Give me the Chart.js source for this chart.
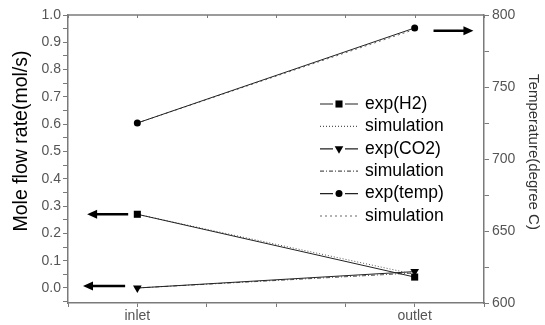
<!DOCTYPE html>
<html>
<head>
<meta charset="utf-8">
<script src="https://cdn.jsdelivr.net/npm/chart.js@4/dist/chart.umd.min.js"></script>
<style>
  html, body { margin: 0; padding: 0; background: #fff; }
  #wrap { width: 545px; height: 325px; position: relative; }
</style>
</head>
<body>
<div id="wrap"><canvas id="chart"></canvas></div>
<script>
  /* ---- data ---- */
  var categories = ['inlet', 'outlet'];
  var h2Exp = [0.27, 0.04];
  var h2Sim = [0.27, 0.05];
  var co2Exp = [0.0, 0.06];
  var co2Sim = [0.0, 0.055];
  var tempExp = [725, 791];
  var tempSim = [725, 790];

  var flowLabels = ['0.0', '0.1', '0.2', '0.3', '0.4', '0.5', '0.6', '0.7', '0.8', '0.9', '1.0'];
  var tempLabels = ['600', '650', '700', '750', '800'];
  var legendLabels = ['exp(H2)', 'simulation', 'exp(CO2)', 'simulation', 'exp(temp)', 'simulation'];
  var leftTitle = 'Mole flow rate(mol/s)';
  var rightTitle = 'Temperature(degree C)';

  /* arrows pointing at the axis each series belongs to (data units) */
  var arrowAxis = ['y', 'y', 'y2'];
  var arrowY = [0.27, 0.007, 789];
  var arrowFrom = [0.967, 0.956, 2.068];
  var arrowTo = [0.819, 0.804, 2.212];

  var FONT = "'Liberation Sans', Arial, sans-serif";
  var AXIS = '#7a7a7a';
  var TICK_TXT = '#555';

  function pts(arr) {
    return arr.map(function (v, i) { return { x: i + 1, y: v }; });
  }

  function drawMarker(ctx, style, x, y, r) {
    ctx.beginPath();
    if (style === 'rect') {
      var s = r * Math.SQRT1_2;
      ctx.rect(x - s, y - s, 2 * s, 2 * s);
    } else if (style === 'triangle') {
      ctx.moveTo(x - r * 0.866, y - r * 0.5);
      ctx.lineTo(x + r * 0.866, y - r * 0.5);
      ctx.lineTo(x, y + r);
      ctx.closePath();
    } else {
      ctx.arc(x, y, r, 0, Math.PI * 2);
    }
    ctx.fill();
  }

  /* top frame line with inward ticks */
  var topFrame = {
    id: 'topFrame',
    afterDraw: function (chart) {
      var ctx = chart.ctx, a = chart.chartArea, xs = chart.scales.x;
      ctx.save();
      ctx.strokeStyle = AXIS;
      ctx.lineWidth = 1.5;
      ctx.beginPath();
      ctx.moveTo(a.left, a.top);
      ctx.lineTo(a.right, a.top);
      ctx.stroke();
      ctx.lineWidth = 1;
      xs.ticks.forEach(function (t) {
        var px = Math.round(xs.getPixelForValue(t.value)) + 0.5;
        ctx.beginPath();
        ctx.moveTo(px, a.top);
        ctx.lineTo(px, a.top + 3);
        ctx.stroke();
      });
      ctx.restore();
    }
  };

  /* the fat arrows */
  var arrows = {
    id: 'arrows',
    afterDatasetsDraw: function (chart) {
      var ctx = chart.ctx, xs = chart.scales.x;
      ctx.save();
      ctx.fillStyle = '#000';
      ctx.strokeStyle = '#000';
      ctx.lineWidth = 2.5;
      for (var i = 0; i < arrowY.length; i++) {
        var ys = chart.scales[arrowAxis[i]];
        var y = ys.getPixelForValue(arrowY[i]);
        var x1 = xs.getPixelForValue(arrowFrom[i]);
        var x2 = xs.getPixelForValue(arrowTo[i]);
        var dir = x2 > x1 ? 1 : -1;
        var head = 10;
        ctx.beginPath();
        ctx.moveTo(x1, y);
        ctx.lineTo(x2 - dir * head * 0.8, y);
        ctx.stroke();
        ctx.beginPath();
        ctx.moveTo(x2, y);
        ctx.lineTo(x2 - dir * head, y - 4.5);
        ctx.lineTo(x2 - dir * head, y + 4.5);
        ctx.closePath();
        ctx.fill();
      }
      ctx.restore();
    }
  };

  /* legend box drawn inside the plot */
  var boxLegend = {
    id: 'boxLegend',
    afterDraw: function (chart) {
      var ctx = chart.ctx;
      var x0 = 320, x1 = 358, tx = 365, y0 = 104, step = 22.4;
      ctx.save();
      ctx.font = '17.5px ' + FONT;
      ctx.textBaseline = 'middle';
      chart.data.datasets.forEach(function (ds, i) {
        var y = y0 + i * step;
        var mid = (x0 + x1) / 2;
        ctx.strokeStyle = ds.borderColor;
        ctx.lineWidth = 1.2;
        if (ds.pointRadius > 0) {
          ctx.setLineDash([]);
          ctx.beginPath();
          ctx.moveTo(x0, y); ctx.lineTo(mid - 6, y);
          ctx.moveTo(mid + 6, y); ctx.lineTo(x1, y);
          ctx.stroke();
          ctx.fillStyle = '#000';
          drawMarker(ctx, ds.pointStyle, mid, y, ds.pointRadius);
        } else {
          ctx.setLineDash(ds.borderDash || []);
          ctx.beginPath();
          ctx.moveTo(x0, y); ctx.lineTo(x1, y);
          ctx.stroke();
          ctx.setLineDash([]);
        }
        ctx.fillStyle = '#000';
        ctx.fillText(legendLabels[i], tx, y);
      });
      ctx.restore();
    }
  };

  /* axis titles */
  var axisTitles = {
    id: 'axisTitles',
    afterDraw: function (chart) {
      var ctx = chart.ctx;
      ctx.save();
      ctx.textAlign = 'center';
      ctx.textBaseline = 'alphabetic';
      ctx.fillStyle = '#000';
      ctx.font = '19.5px ' + FONT;
      ctx.translate(27, 141);
      ctx.rotate(-Math.PI / 2);
      ctx.fillText(leftTitle, 0, 0);
      ctx.restore();
      ctx.save();
      ctx.textAlign = 'center';
      ctx.textBaseline = 'alphabetic';
      ctx.fillStyle = '#333';
      ctx.font = '15px ' + FONT;
      ctx.translate(529, 152);
      ctx.rotate(Math.PI / 2);
      ctx.fillText(rightTitle, 0, 0);
      ctx.restore();
    }
  };

  var tickFont = { family: FONT, size: 14 };

  new Chart(document.getElementById('chart'), {
    type: 'line',
    data: {
      datasets: [
        { label: legendLabels[0], data: pts(h2Exp), yAxisID: 'y', borderColor: '#222', borderWidth: 1,
          pointStyle: 'rect', pointRadius: 5, pointBackgroundColor: '#000', pointBorderWidth: 0 },
        { label: legendLabels[1], data: pts(h2Sim), yAxisID: 'y', borderColor: '#555', borderWidth: 1,
          borderDash: [1, 2], pointRadius: 0 },
        { label: legendLabels[2], data: pts(co2Exp), yAxisID: 'y', borderColor: '#222', borderWidth: 1,
          pointStyle: 'triangle', pointRotation: 180, pointRadius: 5, pointBackgroundColor: '#000', pointBorderWidth: 0 },
        { label: legendLabels[3], data: pts(co2Sim), yAxisID: 'y', borderColor: '#555', borderWidth: 1,
          borderDash: [4, 2, 1, 2], pointRadius: 0 },
        { label: legendLabels[4], data: pts(tempExp), yAxisID: 'y2', borderColor: '#222', borderWidth: 1,
          pointStyle: 'circle', pointRadius: 3.5, pointBackgroundColor: '#000', pointBorderWidth: 0 },
        { label: legendLabels[5], data: pts(tempSim), yAxisID: 'y2', borderColor: '#666', borderWidth: 1,
          borderDash: [2, 3], pointRadius: 0 }
      ]
    },
    options: {
      responsive: true,
      maintainAspectRatio: false,
      animation: false,
      layout: { padding: { top: 15, left: 0, right: 0, bottom: 0 } },
      plugins: { legend: { display: false }, tooltip: { enabled: false } },
      scales: {
        x: {
          type: 'linear', position: 'bottom', min: 0.75, max: 2.25,
          afterFit: function (s) { s.height = 22; },
          border: { color: AXIS, width: 1.5 },
          grid: { drawOnChartArea: false, tickLength: 4, color: AXIS },
          ticks: {
            stepSize: 0.25, autoSkip: false, maxRotation: 0, padding: 1,
            color: TICK_TXT, font: tickFont,
            callback: function (v) {
              var k = Math.round(v);
              return Math.abs(v - k) < 1e-6 && categories[k - 1] ? categories[k - 1] : '';
            }
          }
        },
        y: {
          position: 'left', min: -0.055, max: 1.0,
          afterFit: function (s) { s.width = 68; },
          border: { color: AXIS, width: 1.5 },
          grid: { drawOnChartArea: false, tickLength: 5, color: AXIS },
          ticks: {
            stepSize: 0.05, includeBounds: false, autoSkip: false, maxTicksLimit: 100, padding: 2,
            color: TICK_TXT, font: tickFont,
            callback: function (v) {
              var s = (Math.round(v * 100) / 100).toFixed(2);
              var l = v.toFixed(1);
              return s.charAt(s.length - 1) === '0' && flowLabels.indexOf(l) >= 0 ? l : '';
            }
          }
        },
        y2: {
          position: 'right', min: 600, max: 800,
          afterFit: function (s) { s.width = 61; },
          border: { color: AXIS, width: 1.5 },
          grid: { drawOnChartArea: false, tickLength: 5, color: AXIS },
          ticks: {
            stepSize: 25, autoSkip: false, maxTicksLimit: 100, padding: 3,
            color: TICK_TXT, font: tickFont,
            callback: function (v) {
              var l = String(v);
              return tempLabels.indexOf(l) >= 0 ? l : '';
            }
          }
        }
      }
    },
    plugins: [topFrame, arrows, boxLegend, axisTitles]
  });
</script>
</body>
</html>
